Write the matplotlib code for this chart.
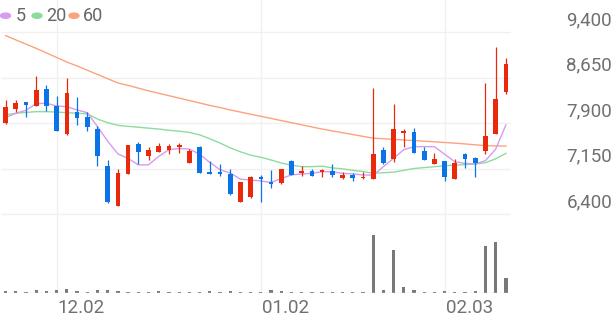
import matplotlib
matplotlib.use("Agg")
import matplotlib.pyplot as plt
import numpy as np

# ---------------- data ----------------
opens = [7900, 8125, 8240, 8185, 8455, 8185, 7715, 8075, 8005, 7795,
         7195, 6540, 7060, 7555, 7360, 7425, 7455, 7500, 7245, 7510,
         7080, 7095, 7060, 6595, 6675, 7015, 6925, 6905, 7280, 7070,
         7110, 7095, 7115, 6990, 7050, 6990, 6975, 7455, 7300, 7730,
         7755, 7445, 7225, 7275, 6980, 7395, 7320, 7445, 7725, 8415]
highs = [8280, 8280, 8245, 8680, 8525, 8345, 8635, 8325, 8075, 7850,
         7290, 7135, 7540, 7590, 7500, 7565, 7550, 7565, 7470, 7520,
         7275, 7220, 7140, 6935, 7020, 7045, 7125, 7140, 7285, 7190,
         7140, 7140, 7225, 7100, 7080, 7100, 8470, 7510, 8210, 7800,
         7815, 7500, 7400, 7280, 7310, 7405, 7340, 8555, 9160, 8965]
lows = [7890, 8085, 8005, 8180, 8100, 7765, 7710, 7865, 7770, 7195,
        6585, 6535, 7055, 7225, 7290, 7420, 7390, 7400, 7240, 7070,
        7055, 7025, 6720, 6590, 6670, 6595, 6825, 6900, 7045, 7030,
        7030, 7015, 7015, 6985, 6945, 6985, 6970, 7230, 7265, 7510,
        7405, 7290, 7225, 6945, 6980, 7155, 7015, 7390, 7720, 8380]
closes = [8160, 8235, 8190, 8445, 8180, 7770, 8390, 7980, 7830, 7355,
          6590, 7070, 7540, 7425, 7455, 7515, 7515, 7535, 7440, 7070,
          7060, 7055, 6725, 6935, 7015, 6975, 6890, 7135, 7050, 7115,
          7030, 7120, 7050, 7045, 6990, 7010, 7390, 7235, 7800, 7770,
          7410, 7290, 7300, 7015, 7245, 7300, 7245, 7685, 8295, 8870]
volumes = [17, 17, 13, 27, 20, 27, 37, 23, 10, 33,
           33, 23, 13, 13, 13, 17, 10, 10, 10, 13,
           17, 10, 20, 10, 10, 10, 27, 20, 13, 8,
           8, 8, 8, 8, 10, 8, 576, 33, 426, 60,
           30, 13, 13, 20, 10, 10, 20, 473, 510, 150]
ma5 = [7990, 8060, 8110, 8220, 8225, 8180, 8170, 8115, 8070, 7840,
       7600, 7390, 7315, 7210, 7210, 7350, 7460, 7480, 7470, 7385,
       7250, 7130, 7075, 6975, 6960, 6945, 6920, 6985, 7045, 7060,
       7070, 7098, 7095, 7070, 7060, 7044, 7040, 7180, 7318, 7460,
       7510, 7510, 7510, 7385, 7260, 7236, 7225, 7280, 7470, 7867]
ma20 = [8035, 8060, 8075, 8087, 8087, 8080, 8070, 8062, 8050, 7965,
        7905, 7862, 7845, 7830, 7815, 7800, 7780, 7765, 7745, 7705,
        7640, 7570, 7490, 7425, 7370, 7335, 7290, 7240, 7205, 7180,
        7180, 7190, 7160, 7145, 7120, 7100, 7072, 7080, 7090, 7120,
        7150, 7165, 7180, 7195, 7205, 7215, 7222, 7246, 7310, 7400]
ma60 = [9340, 9270, 9200, 9130, 9055, 8980, 8905, 8840, 8770, 8700,
        8630, 8560, 8520, 8475, 8430, 8390, 8350, 8310, 8270, 8230,
        8190, 8155, 8115, 8080, 8045, 8010, 7975, 7940, 7905, 7870,
        7835, 7800, 7770, 7740, 7710, 7680, 7650, 7640, 7630, 7620,
        7610, 7600, 7590, 7578, 7568, 7555, 7540, 7528, 7522, 7520]
price_ticks = [6400, 7150, 7900, 8650, 9400]
date_idx = [5, 25, 43]
date_labels = ["12.02", "01.02", "02.03"]
legend_labels = ["5", "20", "60"]

# ---------------- style ----------------
W, H = 616, 321
DPI = 100
RED = "#e8290b"
BLUE = "#0a73e8"
C5, C20, C60 = "#d69cf0", "#8edc9d", "#fba37e"
GRID = "#f0f0f0"
TXT = "#707070"
FONT = ["Roboto", "DejaVu Sans"]

fig = plt.figure(figsize=(W / DPI, H / DPI), dpi=DPI)
fig.patch.set_facecolor("white")

def rect(x0, y0, x1, y1):
    return [x0 / W, 1 - y1 / H, (x1 - x0) / W, (y1 - y0) / H]

# price axes: pixel y 0..220; 9400 at y=32, 6400 at y=214
ppp = 3000 / (214 - 32)
ax = fig.add_axes(rect(0.5, 0, 511, 220))
ax.set_xlim(-0.5, 49.5)
ax.set_ylim(9400 - (220 - 32) * ppp, 9400 + 32 * ppp)

axv = fig.add_axes(rect(0.5, 220, 511, 293))
axv.set_xlim(-0.5, 49.5)
axv.set_ylim(0, max(volumes) * 73 / 57.6)

for a in (ax, axv):
    a.set_facecolor("none")
    for s in a.spines.values():
        s.set_visible(False)
    a.set_xticks([])
    a.set_yticks([])
    for d in date_idx:
        a.axvline(d, color=GRID, lw=1.0, zorder=0)

for p in price_ticks:
    ax.axhline(p, color=GRID, lw=1.0, zorder=0)

x = np.arange(len(opens))
o = np.array(opens); c = np.array(closes)
hi = np.array(highs); lo = np.array(lows)
cols = [RED if cc >= oo else BLUE for oo, cc in zip(o, c)]

ax.plot(x, ma60, color=C60, lw=1.0, zorder=2)
ax.plot(x, ma20, color=C20, lw=1.0, zorder=2)
ax.plot(x, ma5, color=C5, lw=1.0, zorder=2)

ax.vlines(x, lo, hi, colors=cols, lw=0.9, zorder=3)
body_b = np.minimum(o, c)
body_h = np.maximum(np.abs(c - o), 25)
ax.bar(x, body_h, bottom=body_b, width=0.46, color=cols, zorder=4, linewidth=0)

axv.bar(x, volumes, width=0.32, color="#787878", zorder=3, linewidth=0)
axv.axhline(0, color="#dcdcdc", lw=1.0, zorder=4)

# right price labels
for p in price_ticks:
    ypix = 32 + (9400 - p) / ppp - 12
    fig.text(612 / W, 1 - ypix / H, f"{p:,}", ha="right", va="center",
             fontsize=13.5, color=TXT, family=FONT)

# date labels
for d, lab in zip(date_idx, date_labels):
    xpix = 0.5 + (d + 0.5) * (510.5 / 50)
    fig.text((xpix + 1) / W, 1 - 308 / H, lab, ha="left", va="center",
             fontsize=13.5, color=TXT, family=FONT)

# legend
lx = [5.5, 37, 74]
tx = [16, 46.5, 83]
for cl, xx, tt, lab in zip([C5, C20, C60], lx, tx, legend_labels):
    fig.add_artist(plt.Circle((xx / W, 1 - 15.7 / H), 5 / W, color=cl,
                              transform=fig.transFigure))
    fig.text(tt / W, 1 - 15.7 / H, lab, ha="left", va="center",
             fontsize=13, color="#666666", family=FONT)

fig.savefig("out.png", dpi=DPI)
